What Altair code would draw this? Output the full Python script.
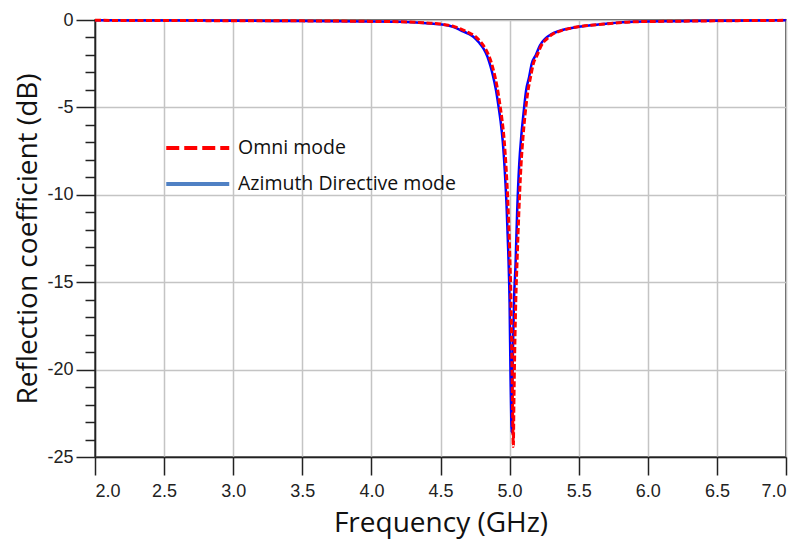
import altair as alt
import pandas as pd

# Omni mode (red dashed)
omni_f = [2.0, 2.5, 3.0, 3.5, 4.0, 4.2, 4.4, 4.5, 4.6, 4.66, 4.71, 4.75, 4.79, 4.82,
          4.85, 4.87, 4.89, 4.91, 4.93, 4.945, 4.96, 4.975, 4.988, 5.0, 5.01, 5.017,
          5.022, 5.027, 5.031, 5.037, 5.045, 5.055, 5.067, 5.082, 5.097, 5.112, 5.132,
          5.152, 5.172, 5.2, 5.23, 5.27, 5.31, 5.37, 5.43, 5.51, 5.61, 5.71, 5.91,
          6.2, 6.6, 7.0]
omni_db = [-0.02, -0.03, -0.04, -0.05, -0.08, -0.1, -0.17, -0.23, -0.38, -0.56, -0.75,
           -0.93, -1.25, -1.58, -2.05, -2.5, -3.1, -3.85, -4.85, -5.7, -6.8, -8.5, -10.5,
           -13.1, -16.1, -19.5, -22.5, -24.4, -22.0, -19.0, -16.0, -13.6, -11.0, -8.4,
           -6.7, -5.4, -4.1, -3.25, -2.5, -2.0, -1.45, -1.08, -0.82, -0.62, -0.49, -0.37,
           -0.28, -0.21, -0.1, -0.07, -0.04, -0.02]

# Azimuth Directive mode (blue solid)
azi_f = [2.0, 2.5, 3.0, 3.5, 4.0, 4.2, 4.4, 4.5, 4.6, 4.65, 4.7, 4.74, 4.78, 4.81, 4.84,
         4.86, 4.88, 4.9, 4.92, 4.935, 4.95, 4.965, 4.978, 4.99, 5.0, 5.007, 5.012,
         5.015, 5.019, 5.025, 5.033, 5.043, 5.055, 5.07, 5.085, 5.1, 5.12, 5.14, 5.16,
         5.19, 5.22, 5.26, 5.3, 5.36, 5.42, 5.5, 5.6, 5.7, 5.9, 6.2, 6.6, 7.0]
azi_db = [-0.02, -0.03, -0.04, -0.06, -0.08, -0.1, -0.18, -0.25, -0.42, -0.6, -0.78,
          -0.97, -1.3, -1.62, -2.1, -2.6, -3.2, -3.95, -4.95, -5.8, -6.9, -8.6, -10.6,
          -13.2, -16.2, -20.5, -22.8, -23.6, -21.5, -18.5, -15.8, -14.0, -10.9, -8.2,
          -6.6, -5.4, -4.0, -3.3, -2.5, -2.0, -1.45, -1.05, -0.82, -0.62, -0.5, -0.38,
          -0.29, -0.21, -0.1, -0.07, -0.04, -0.02]

series_names = ["Omni mode", "Azimuth Directive mode"]
x_ticks = [2.0, 2.5, 3.0, 3.5, 4.0, 4.5, 5.0, 5.5, 6.0, 6.5, 7.0]
y_ticks = list(range(-25, 1))

df_omni = pd.DataFrame({"f": omni_f, "db": omni_db, "series": series_names[0]})
df_azi = pd.DataFrame({"f": azi_f, "db": azi_db, "series": series_names[1]})
df_all = pd.concat([df_omni, df_azi], ignore_index=True)

TICK_FONT = "Liberation Sans"
TEXT_FONT = "Open Sans"

x_enc = alt.X(
    "f:Q",
    scale=alt.Scale(domain=[2, 7], nice=False, zero=False),
    axis=alt.Axis(
        values=x_ticks, format=".1f", title="Frequency (GHz)",
        tickSize=18, tickWidth=1.5, tickColor="#222",
        labelFont=TICK_FONT, labelFontSize=18, labelColor="#222", labelPadding=7,
        titleFont=TEXT_FONT, titleFontSize=28, titleFontWeight="normal",
        titleColor="#111", titlePadding=9,
        grid=True, gridColor="#C4C4C4", gridWidth=1.5,
        domainColor="#222", domainWidth=1.5,
    ),
)
y_enc = alt.Y(
    "db:Q",
    scale=alt.Scale(domain=[-25, 0], nice=False, zero=False),
    axis=alt.Axis(
        values=y_ticks, title="Reflection coefficient (dB)",
        labelExpr="datum.value % 5 === 0 ? '' + datum.value : ''",
        tickSize={"condition": {"test": "datum.value % 5 === 0", "value": 19}, "value": 10},
        tickWidth=1.5, tickColor="#222",
        labelFont=TICK_FONT, labelFontSize=18, labelColor="#222", labelPadding=3,
        titleFont=TEXT_FONT, titleFontSize=28, titleFontWeight="normal",
        titleColor="#111", titlePadding=4,
        grid=True, gridColor="#C4C4C4", gridWidth=1.5,
        gridOpacity={"condition": {"test": "datum.value % 5 === 0", "value": 1}, "value": 0},
        domainColor="#222", domainWidth=1.5,
    ),
)

blue = alt.Chart(df_azi).mark_line(color="#0000FF", strokeWidth=2.5,
                                   interpolate="monotone").encode(x=x_enc, y=y_enc)
red = alt.Chart(df_omni).mark_line(color="#FF0000", strokeWidth=3, strokeDash=[6, 2.5],
                                   interpolate="monotone").encode(x=x_enc, y=y_enc)

leg = alt.Legend(
    title=None, orient="none", legendX=69, legendY=110, padding=0,
    symbolType="M-1,0H3", symbolSize=992, symbolStrokeWidth=4,
    labelFont=TEXT_FONT, labelFontSize=19.5,
    labelColor="#111", labelOffset=38, labelLimit=400, rowPadding=8,
)
legend_layer = alt.Chart(df_all).transform_filter("false").mark_line().encode(
    x=x_enc, y=y_enc,
    stroke=alt.Stroke("series:N", scale=alt.Scale(domain=series_names,
                                                 range=["#FF0000", "#5081C4"]), legend=leg),
    strokeDash=alt.StrokeDash("series:N", scale=alt.Scale(domain=series_names,
                                                         range=[[13, 5], [1, 0]]), legend=leg),
)

chart = alt.layer(blue, red, legend_layer).properties(
    width=691, height=437,
    autosize=alt.AutoSizeParams(type="none"),
    padding={"left": 87, "top": 12, "right": 5, "bottom": 90},
    background="white",
).configure_view(stroke="#222", strokeWidth=1.5)

chart.save("out.html", embed_options={"renderer": "svg", "actions": False})
